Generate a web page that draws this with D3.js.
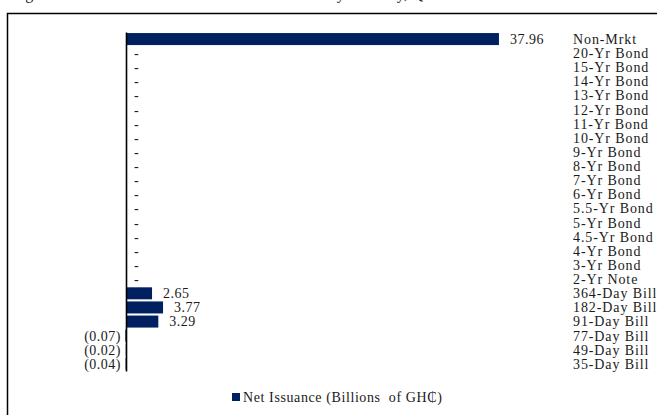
<!DOCTYPE html>
<html>
<head>
<meta charset="utf-8">
<script src="https://cdn.jsdelivr.net/npm/d3@7"></script>
<style>
  body { margin: 0; background: #fff; }
  svg text { font-family: "Liberation Serif", "Times New Roman", serif; fill: #1a1a1a; }
</style>
</head>
<body>
<div id="chart"></div>
<script>
const categories = ['Non-Mrkt','20-Yr Bond','15-Yr Bond','14-Yr Bond','13-Yr Bond','12-Yr Bond',
  '11-Yr Bond','10-Yr Bond','9-Yr Bond','8-Yr Bond','7-Yr Bond','6-Yr Bond','5.5-Yr Bond',
  '5-Yr Bond','4.5-Yr Bond','4-Yr Bond','3-Yr Bond','2-Yr Note','364-Day Bill','182-Day Bill',
  '91-Day Bill','77-Day Bill','49-Day Bill','35-Day Bill'];
const netIssuance = [37.96,0,0,0,0,0,0,0,0,0,0,0,0,0,0,0,0,0,2.65,3.77,3.29,-0.07,-0.02,-0.04];
const seriesName = 'Net Issuance (Billions  of GH\u20B5)';
const titleText = 'Figure 6: Net Issuance of Government Securities by Maturity, Q1 2023';

const W = 657, H = 415;
const barColor = '#002060';

const svg = d3.select('#chart').append('svg')
  .attr('width', W).attr('height', H);

// title, mostly cut off at top of the picture
svg.append('text')
  .attr('x', 12).attr('y', -1)
  .style('font-size', '16px')
  .text(titleText);

// frame
svg.append('rect')
  .attr('x', 7.5).attr('y', 13.5)
  .attr('width', 670).attr('height', 430)
  .attr('fill', 'none').attr('stroke', '#000').attr('stroke-width', 1.5);

const x = d3.scaleLinear().domain([0, 40]).range([126, 519]);
const y = d3.scaleBand().domain(categories).range([32, 371])
  .paddingInner(0.15).paddingOuter(0.075);

const rows = categories.map((c, i) => ({cat: c, v: netIssuance[i]}));

svg.selectAll('rect.bar')
  .data(rows)
  .enter().append('rect')
  .attr('class', 'bar')
  .attr('x', d => Math.min(x(0), x(d.v)))
  .attr('y', d => y(d.cat))
  .attr('width', d => Math.abs(x(d.v) - x(0)))
  .attr('height', y.bandwidth())
  .attr('fill', barColor);

// vertical axis line
const axis = svg.append('g')
  .attr('transform', `translate(${x(0)},0)`)
  .call(d3.axisLeft(y).tickValues([]).tickSizeOuter(0));
axis.select('.domain').attr('stroke', '#000').attr('stroke-width', 1.6);

const fmt = v => v > 0 ? v.toFixed(2) : v < 0 ? '(' + Math.abs(v).toFixed(2) + ')' : '-';

// data labels
svg.selectAll('text.val')
  .data(rows)
  .enter().append('text')
  .attr('class', 'val')
  .attr('x', d => d.v > 0 ? x(d.v) + 11 : d.v < 0 ? x(0) - 5 : x(0) + 8)
  .attr('y', d => y(d.cat) + y.bandwidth() / 2)
  .attr('dy', '0.35em')
  .attr('text-anchor', d => d.v < 0 ? 'end' : 'start')
  .style('font-size', '14px')
  .style('letter-spacing', '0.5px')
  .text(d => fmt(d.v));

// category labels on the right
svg.selectAll('text.cat')
  .data(categories)
  .enter().append('text')
  .attr('class', 'cat')
  .attr('x', 573)
  .attr('y', d => y(d) + y.bandwidth() / 2)
  .attr('dy', '0.35em')
  .style('font-size', '14px')
  .style('letter-spacing', '0.9px')
  .text(d => d);

// legend
const lg = svg.append('g').attr('transform', 'translate(232,393)');
lg.append('rect').attr('width', 8).attr('height', 8).attr('fill', barColor);
lg.append('text').attr('x', 11).attr('y', 4).attr('dy', '0.35em')
  .style('font-size', '14px').style('letter-spacing', '0.6px').style('white-space', 'pre')
  .text(seriesName);
</script>
</body>
</html>
